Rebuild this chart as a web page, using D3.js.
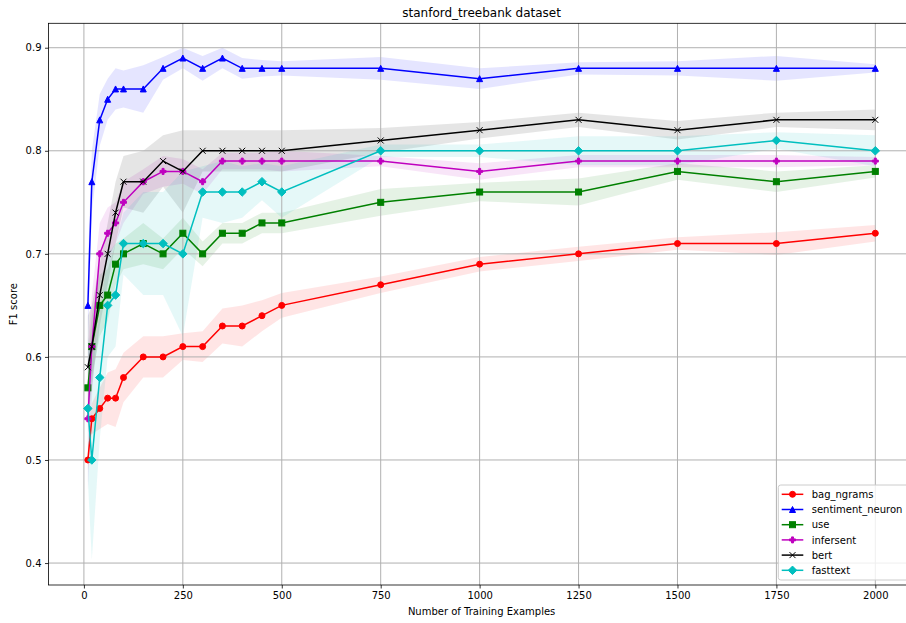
<!DOCTYPE html>
<html>
<head>
<meta charset="utf-8">
<script src="https://cdn.jsdelivr.net/npm/d3@7"></script>
<style>
  html,body{margin:0;padding:0;background:#fff;overflow:hidden}
  svg{display:block;font-family:"DejaVu Sans",sans-serif}
</style>
</head>
<body>
<div id="chart"></div>
<script>
// stanford_treebank — F1 vs training set size, mean line + std band per model
const sizes = [10,20,40,60,80,100,150,200,250,300,350,400,450,500,750,1000,1250,1500,1750,2000];

const bagNgrams    = [0.50,0.54,0.55,0.56,0.56,0.58,0.60,0.60,0.61,0.61,0.63,0.63,0.64,0.65,0.67,0.69,0.70,0.71,0.71,0.72];
const bagNgramsStd = [0.010,0.015,0.020,0.025,0.028,0.024,0.020,0.020,0.013,0.015,0.017,0.020,0.015,0.012,0.008,0.007,0.007,0.006,0.011,0.008];

const sentNeuron    = [0.65,0.77,0.83,0.85,0.86,0.86,0.86,0.88,0.89,0.88,0.89,0.88,0.88,0.88,0.88,0.87,0.88,0.88,0.88,0.88];
const sentNeuronStd = [0.040,0.030,0.025,0.020,0.020,0.018,0.023,0.011,0.010,0.012,0.010,0.010,0.008,0.007,0.011,0.010,0.006,0.007,0.012,0.004];

const useScores = [0.57,0.61,0.65,0.66,0.69,0.70,0.71,0.70,0.72,0.70,0.72,0.72,0.73,0.73,0.75,0.76,0.76,0.78,0.77,0.78];
const useStd    = [0.030,0.030,0.030,0.025,0.020,0.015,0.020,0.015,0.015,0.012,0.010,0.010,0.010,0.010,0.013,0.009,0.013,0.008,0.010,0.006];

const infersent    = [0.54,0.61,0.70,0.72,0.73,0.75,0.77,0.78,0.78,0.77,0.79,0.79,0.79,0.79,0.79,0.78,0.79,0.79,0.79,0.79];
const infersentStd = [0.070,0.050,0.030,0.025,0.020,0.020,0.012,0.015,0.012,0.012,0.008,0.008,0.008,0.010,0.005,0.008,0.006,0.006,0.006,0.004];

const bert    = [0.59,0.61,0.66,0.70,0.74,0.77,0.77,0.79,0.78,0.80,0.80,0.80,0.80,0.80,0.81,0.82,0.83,0.82,0.83,0.83];
const bertStd = [0.050,0.040,0.030,0.030,0.030,0.025,0.030,0.025,0.040,0.020,0.020,0.020,0.020,0.020,0.012,0.008,0.007,0.009,0.007,0.010];

const fasttext    = [0.55,0.50,0.58,0.65,0.66,0.71,0.71,0.71,0.70,0.76,0.76,0.76,0.77,0.76,0.80,0.80,0.80,0.80,0.81,0.80];
const fasttextStd = [0.070,0.097,0.060,0.050,0.050,0.030,0.050,0.050,0.080,0.025,0.030,0.025,0.018,0.025,0.006,0.006,0.014,0.014,0.008,0.015];

const xTicks = [0,250,500,750,1000,1250,1500,1750,2000];
const yTicks = [0.4,0.5,0.6,0.7,0.8,0.9];

const series = [
  {name:'bag_ngrams',       vals:bagNgrams,  sd:bagNgramsStd,  col:'#ff0000', mk:'o'},
  {name:'sentiment_neuron', vals:sentNeuron, sd:sentNeuronStd, col:'#0000ff', mk:'^'},
  {name:'use',              vals:useScores,  sd:useStd,        col:'#008000', mk:'s'},
  {name:'infersent',        vals:infersent,  sd:infersentStd,  col:'#bf00bf', mk:'P'},
  {name:'bert',             vals:bert,       sd:bertStd,       col:'#000000', mk:'x'},
  {name:'fasttext',         vals:fasttext,   sd:fasttextStd,   col:'#00bfbf', mk:'D'},
];

const W=906, H=623, m={l:48.5, t:23.3, r:914.7, b:585};
const x=d3.scaleLinear().domain([-89.5,2099.5]).range([m.l,m.r]);
const y=d3.scaleLinear().domain([0.3787,0.9237]).range([m.b,m.t]);

const svg=d3.select('#chart').append('svg').attr('width',W).attr('height',H);

// marker paths, centred at 0,0 (size ~6px like matplotlib ms=6)
function marker(g, type, col){
  const s=3;
  if(type==='o') return g.append('circle').attr('r',s).attr('fill',col).attr('stroke',col).attr('stroke-width',1);
  if(type==='^') return g.append('path').attr('d',`M0,${-s}L${s},${s}L${-s},${s}Z`).attr('fill',col).attr('stroke',col).attr('stroke-width',1);
  if(type==='s') return g.append('rect').attr('x',-s).attr('y',-s).attr('width',2*s).attr('height',2*s).attr('fill',col).attr('stroke',col).attr('stroke-width',1);
  if(type==='D'){ const d=s*1.414; return g.append('path').attr('d',`M0,${-d}L${d},0L0,${d}L${-d},0Z`).attr('fill',col).attr('stroke',col).attr('stroke-width',1); }
  if(type==='P'){ const a=1; return g.append('path').attr('d',`M${-a},${-s}H${a}V${-a}H${s}V${a}H${a}V${s}H${-a}V${a}H${-s}V${-a}H${-a}Z`).attr('fill',col).attr('stroke',col).attr('stroke-width',1); }
  if(type==='x') return g.append('path').attr('d',`M${-s},${-s}L${s},${s}M${-s},${s}L${s},${-s}`).attr('fill','none').attr('stroke',col).attr('stroke-width',1);
}

// bands (zorder 1)
const area=d3.area().x((d,i)=>x(sizes[i])).y0(d=>y(d[0]-d[1])).y1(d=>y(d[0]+d[1]));
series.forEach(s=>{
  svg.append('path').datum(s.vals.map((v,i)=>[v,s.sd[i]])).attr('d',area)
    .attr('fill',s.col).attr('fill-opacity',0.1).attr('stroke','none');
});

// grid (above fills, below lines)
const grid=svg.append('g').attr('stroke','#b0b0b0').attr('stroke-width',1);
xTicks.forEach(t=>grid.append('line').attr('x1',x(t)).attr('x2',x(t)).attr('y1',m.t).attr('y2',m.b));
yTicks.forEach(t=>grid.append('line').attr('x1',m.l).attr('x2',m.r).attr('y1',y(t)).attr('y2',y(t)));

// lines + markers
const line=d3.line().x((d,i)=>x(sizes[i])).y(d=>y(d));
series.forEach(s=>{
  const g=svg.append('g');
  g.append('path').datum(s.vals).attr('d',line).attr('fill','none').attr('stroke',s.col).attr('stroke-width',1.5);
  s.vals.forEach((v,i)=>{
    const mg=g.append('g').attr('transform',`translate(${x(sizes[i])},${y(v)})`);
    marker(mg,s.mk,s.col);
  });
});

// axes
const xa=svg.append('g').attr('transform',`translate(0,${m.b})`)
  .call(d3.axisBottom(x).tickValues(xTicks).tickSize(3.5).tickPadding(3.5).tickFormat(d3.format('d')));
const ya=svg.append('g').attr('transform',`translate(${m.l},0)`)
  .call(d3.axisLeft(y).tickValues(yTicks).tickSize(3.5).tickPadding(3.5).tickFormat(d3.format('.1f')));
[xa,ya].forEach(a=>{
  a.select('.domain').remove();
  a.selectAll('text').attr('font-size',10).attr('fill','#000').attr('font-family','DejaVu Sans');
  a.selectAll('line').attr('stroke','#000').attr('stroke-width',0.8);
});
// spines
svg.append('rect').attr('x',m.l).attr('y',m.t).attr('width',m.r-m.l).attr('height',m.b-m.t)
  .attr('fill','none').attr('stroke','#000').attr('stroke-width',0.8);

// labels
svg.append('text').attr('x',(m.l+m.r)/2).attr('y',17).attr('text-anchor','middle').attr('font-size',12).text('stanford_treebank dataset');
svg.append('text').attr('x',(m.l+m.r)/2).attr('y',615).attr('text-anchor','middle').attr('font-size',10).text('Number of Training Examples');
svg.append('text').attr('transform',`translate(17,${(m.t+m.b)/2}) rotate(-90)`).attr('text-anchor','middle').attr('font-size',10).text('F1 score');

// legend (lower right)
const lg=svg.append('g');
lg.append('rect').attr('x',778.3).attr('y',485).attr('width',909.7-778.3).attr('height',95).attr('rx',2.5)
  .attr('fill','#fff').attr('fill-opacity',0.8).attr('stroke','#cccccc').attr('stroke-width',1);
series.forEach((s,i)=>{
  const yy=494.3+i*15.2;
  lg.append('line').attr('x1',781.7).attr('x2',803.3).attr('y1',yy).attr('y2',yy).attr('stroke',s.col).attr('stroke-width',1.5);
  marker(lg.append('g').attr('transform',`translate(792.5,${yy})`),s.mk,s.col);
  lg.append('text').attr('x',811.7).attr('y',yy).attr('dy','0.36em').attr('font-size',10).text(s.name);
});
</script>
</body>
</html>
